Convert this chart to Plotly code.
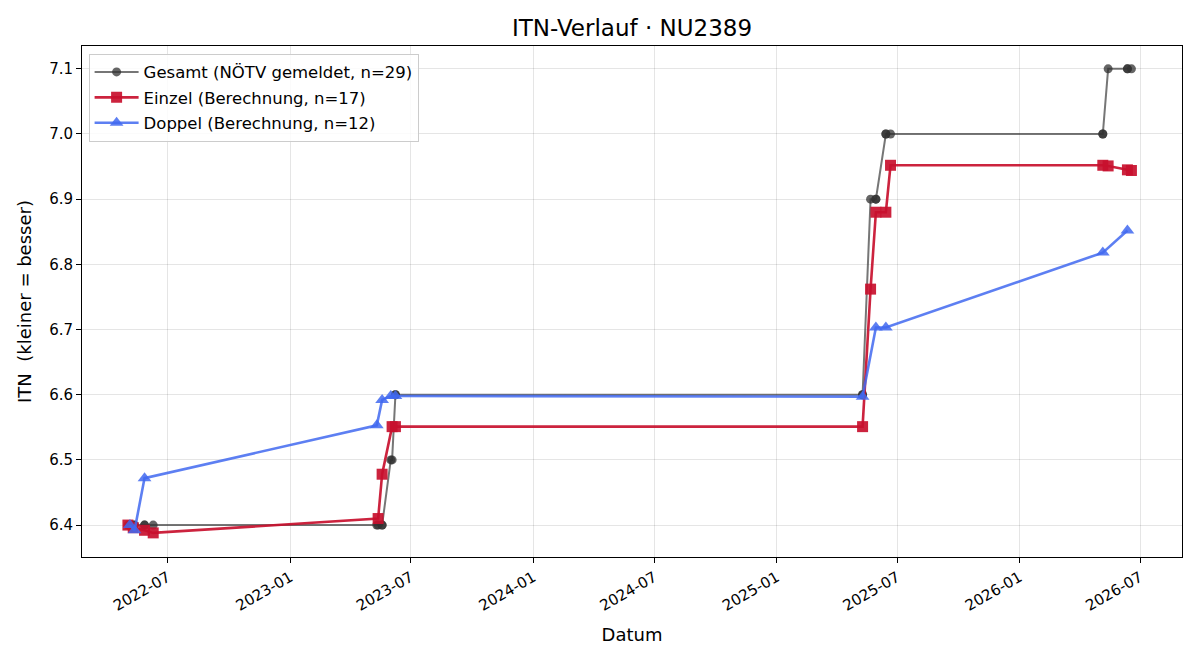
import plotly.graph_objects as go

# Einzel (Berechnung)
einzel_dates = ["2022-05-02", "2022-05-10", "2022-05-27", "2022-06-09",
                "2023-05-13", "2023-05-19", "2023-06-03", "2023-06-08",
                "2025-05-10", "2025-05-22", "2025-05-30", "2025-06-14", "2025-06-21",
                "2026-05-06", "2026-05-14", "2026-06-12", "2026-06-18"]
einzel_vals = [6.400, 6.396, 6.392, 6.388,
               6.410, 6.478, 6.551, 6.551,
               6.551, 6.762, 6.880, 6.880, 6.952,
               6.952, 6.951, 6.945, 6.944]

# Doppel (Berechnung)
doppel_dates = ["2022-05-05", "2022-05-12", "2022-05-27",
                "2023-05-11", "2023-05-19", "2023-06-01", "2023-06-08",
                "2025-05-10", "2025-05-30", "2025-06-14",
                "2026-05-06", "2026-06-12"]
doppel_vals = [6.400, 6.392, 6.472,
               6.553, 6.592, 6.598, 6.598,
               6.597, 6.703, 6.703,
               6.818, 6.852]

# Gesamt (NÖTV gemeldet)
gesamt_dates = ["2022-05-02", "2022-05-05", "2022-05-10", "2022-05-12", "2022-05-27", "2022-05-27", "2022-06-09",
                "2023-05-11", "2023-05-13", "2023-05-19", "2023-05-19", "2023-06-01", "2023-06-03", "2023-06-08", "2023-06-08",
                "2025-05-10", "2025-05-10", "2025-05-22", "2025-05-30", "2025-05-30", "2025-06-14", "2025-06-14", "2025-06-21",
                "2026-05-06", "2026-05-06", "2026-05-14", "2026-06-12", "2026-06-12", "2026-06-18"]
gesamt_vals = [6.4, 6.4, 6.4, 6.4, 6.4, 6.4, 6.4,
               6.4, 6.4, 6.4, 6.4, 6.5, 6.5, 6.6, 6.6,
               6.6, 6.6, 6.9, 6.9, 6.9, 7.0, 7.0, 7.0,
               7.0, 7.0, 7.1, 7.1, 7.1, 7.1]

y_ticks = [6.4, 6.5, 6.6, 6.7, 6.8, 6.9, 7.0, 7.1]

FONT = "DejaVu Sans"

fig = go.Figure()
fig.add_trace(go.Scatter(
    x=gesamt_dates, y=gesamt_vals, mode="lines+markers",
    name="Gesamt (NÖTV gemeldet, n=29)", legendgroup="g",
    line=dict(color="rgba(60,60,60,0.7)", width=2),
    marker=dict(symbol="circle", size=9, color="rgba(50,50,50,0.75)"),
))
fig.add_trace(go.Scatter(
    x=einzel_dates, y=einzel_vals, mode="lines+markers",
    name="Einzel (Berechnung, n=17)", legendgroup="e",
    line=dict(color="rgba(200,16,46,0.92)", width=2.6),
    marker=dict(symbol="square", size=11, color="rgba(200,16,46,0.92)"),
))
fig.add_trace(go.Scatter(
    x=doppel_dates, y=doppel_vals, mode="lines+markers",
    name="Doppel (Berechnung, n=12)", legendgroup="d",
    line=dict(color="rgba(65,105,240,0.85)", width=2.6),
    marker=dict(symbol="triangle-up", size=12, color="rgba(65,105,240,0.85)"),
))

fig.update_layout(
    width=1200, height=660,
    margin=dict(l=82, r=18, t=46, b=103),
    paper_bgcolor="white", plot_bgcolor="white",
    font=dict(family=FONT, size=15, color="black"),
    title=dict(text="ITN-Verlauf · NU2389", x=0.5, xref="paper", xanchor="center",
               y=0.957, yanchor="middle", font=dict(size=23, family=FONT)),
    legend=dict(x=0.006, y=0.985, xanchor="left", yanchor="top",
                bgcolor="rgba(255,255,255,0.85)", bordercolor="#cccccc", borderwidth=1,
                font=dict(size=16.5, family=FONT), tracegroupgap=1, itemwidth=44),
    showlegend=True,
)
fig.update_xaxes(
    type="date", range=["2022-02-22", "2026-09-02"],
    tick0="2022-07-01", dtick="M6", tickformat="%Y-%m", tickangle=-30,
    showgrid=True, gridcolor="rgba(0,0,0,0.1)", gridwidth=1,
    ticks="outside", ticklen=5, tickcolor="black",
    showline=True, linecolor="black", linewidth=1, mirror=True,
    title=dict(text="Datum", font=dict(size=18, family=FONT), standoff=14),
    tickfont=dict(size=15, family=FONT), zeroline=False,
)
fig.update_yaxes(
    range=[6.351, 7.135], tickvals=y_ticks, tickformat=".1f",
    showgrid=True, gridcolor="rgba(0,0,0,0.1)", gridwidth=1,
    ticks="outside", ticklen=5, tickcolor="black",
    showline=True, linecolor="black", linewidth=1, mirror=True,
    title=dict(text="ITN  (kleiner = besser)", font=dict(size=18, family=FONT), standoff=12),
    tickfont=dict(size=15, family=FONT), zeroline=False,
)

fig.write_html("out.html")
